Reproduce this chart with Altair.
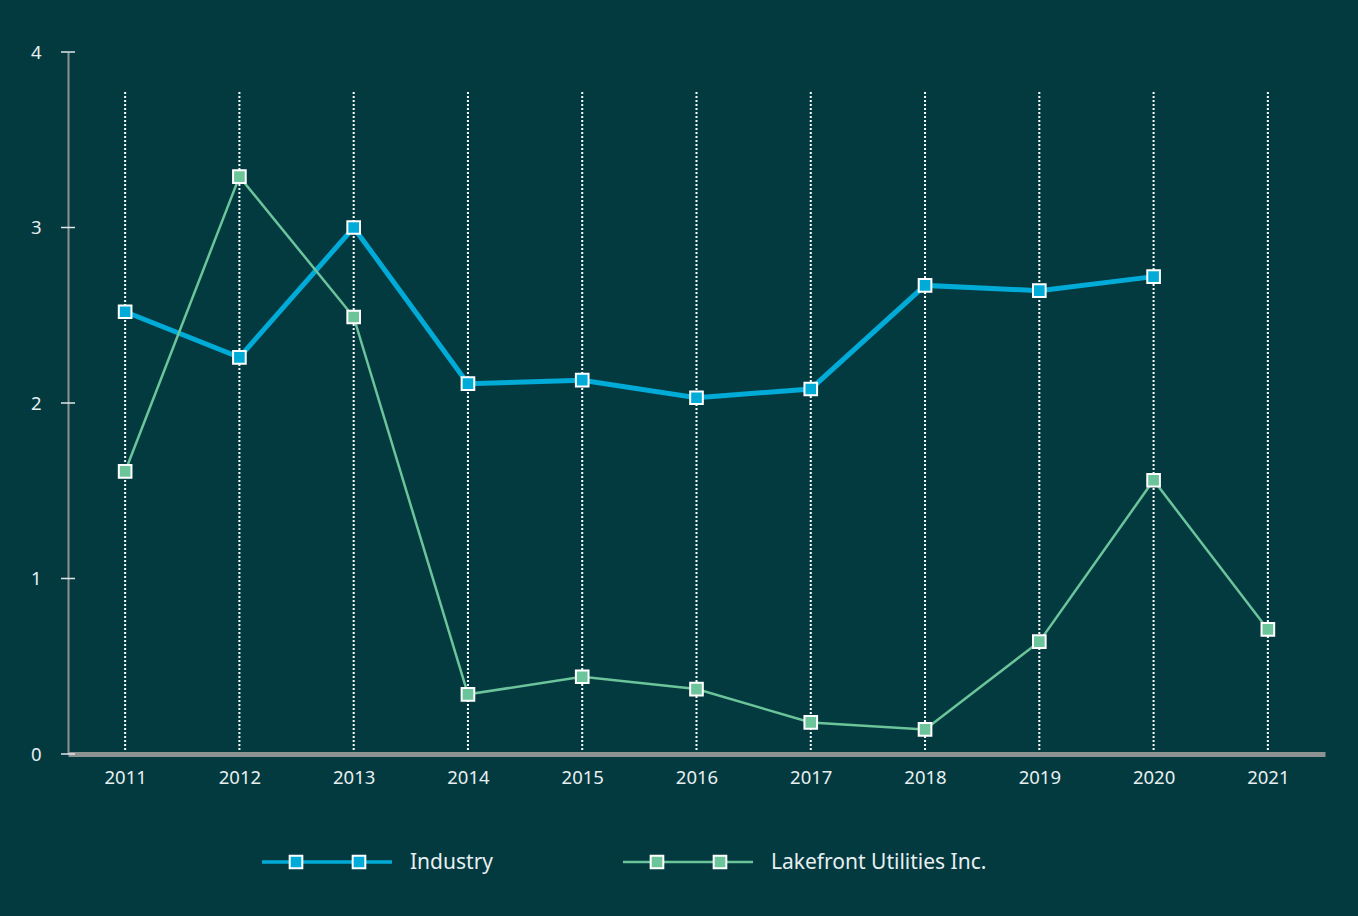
import altair as alt
import pandas as pd

years = ["2011", "2012", "2013", "2014", "2015", "2016", "2017", "2018", "2019", "2020", "2021"]
industry = [2.52, 2.26, 3.00, 2.11, 2.13, 2.03, 2.08, 2.67, 2.64, 2.72, None]
lakefront = [1.61, 3.29, 2.49, 0.34, 0.44, 0.37, 0.18, 0.14, 0.64, 1.56, 0.71]
series_names = ["Industry", "Lakefront Utilities Inc."]
series_colors = ["#00abd8", "#6cc49b"]
series_widths = [5, 2.5]
y_ticks = [0, 1, 2, 3, 4]

BG = "#023a40"
TXT = "#e8eff0"
AXIS_GRAY = "#8d9293"
FONT = "Noto Sans"

rows = []
for y, a, b in zip(years, industry, lakefront):
    if a is not None:
        rows.append({"year": y, "series": series_names[0], "value": a})
    if b is not None:
        rows.append({"year": y, "series": series_names[1], "value": b})
df = pd.DataFrame(rows)
df_years = pd.DataFrame({"year": years})
df_ticks = pd.DataFrame({"v": y_ticks})

xscale = alt.Scale(type="point", domain=years, padding=0.5)
yscale = alt.Scale(domain=[0, 4], nice=False)
color_scale = alt.Scale(domain=series_names, range=series_colors)
width_scale = alt.Scale(domain=series_names, range=series_widths)

x_axis = alt.Axis(
    title=None, labelAngle=0, ticks=False, tickSize=0, grid=False,
    domainColor=AXIS_GRAY, domainWidth=5, labelColor=TXT, labelFontSize=18.5,
    labelFont=FONT, labelPadding=14,
)
y_axis = alt.Axis(
    title=None, values=y_ticks, ticks=False, tickSize=0, grid=False,
    domainColor=AXIS_GRAY, domainWidth=2, labelColor=TXT, labelFontSize=18.5,
    labelFont=FONT, labelPadding=27, format="d",
)

grid = alt.Chart(df_years).mark_rule(
    color="white", strokeWidth=2, strokeDash=[2, 2]
).encode(
    x=alt.X("year:O", scale=xscale, axis=x_axis),
    y=alt.value(40),
    y2=alt.value(700),
)

ticks = alt.Chart(df_ticks).mark_rule(color="#e0e6e7", strokeWidth=1.5).encode(
    y=alt.Y("v:Q", scale=yscale, axis=y_axis),
    x=alt.value(-7),
    x2=alt.value(7),
)

lines = alt.Chart(df).mark_line().encode(
    x=alt.X("year:O", scale=xscale, axis=x_axis),
    y=alt.Y("value:Q", scale=yscale, axis=y_axis),
    color=alt.Color("series:N", scale=color_scale, legend=None),
    strokeWidth=alt.StrokeWidth("series:N", scale=width_scale, legend=None),
    detail="series:N",
)

points = alt.Chart(df).mark_square(
    size=160, stroke="white", strokeWidth=2, opacity=1, fillOpacity=1
).encode(
    x=alt.X("year:O", scale=xscale, axis=x_axis),
    y=alt.Y("value:Q", scale=yscale, axis=y_axis),
    fill=alt.Fill("series:N", scale=color_scale, legend=None),
)

# custom legend (layout only)
legend_layers = []
legend_x0 = [194, 555]
for name, col, w, x0 in zip(series_names, series_colors, series_widths, legend_x0):
    d = pd.DataFrame({"series": [name]})
    legend_layers.append(
        alt.Chart(d).mark_rule(color=col, strokeWidth=w if w < 4 else 3.5).encode(
            x=alt.value(x0), x2=alt.value(x0 + 130), y=alt.value(810)
        )
    )
    for dx in (34, 97):
        legend_layers.append(
            alt.Chart(d).mark_square(
                size=160, stroke="white", strokeWidth=2, color=col, opacity=1
            ).encode(x=alt.value(x0 + dx), y=alt.value(810))
        )
    legend_layers.append(
        alt.Chart(d).mark_text(
            align="left", baseline="middle", color=TXT, fontSize=21, font=FONT
        ).encode(x=alt.value(x0 + 148), y=alt.value(811), text="series:N")
    )

chart = alt.layer(grid, ticks, lines, points, *legend_layers).properties(
    width=1257,
    height=702,
    background=BG,
    padding={"left": 68, "top": 52, "right": 33, "bottom": 162},
    autosize=alt.AutoSizeParams(type="none"),
).configure_view(stroke=None)

chart.save("out.html", embed_options={"renderer": "svg", "actions": False})
